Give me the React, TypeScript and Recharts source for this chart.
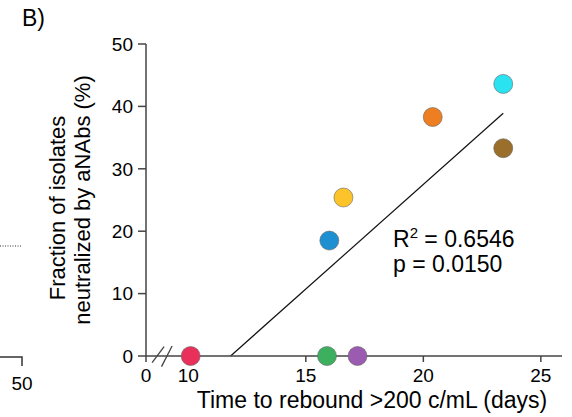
import React from 'react';
import {
  ScatterChart,
  Scatter,
  XAxis,
  YAxis,
  ReferenceLine,
  Cell,
} from 'recharts';

// rebound time (days) vs fraction of isolates neutralized (%)
const days = [10.1, 15.9, 17.2, 16.0, 16.6, 20.4, 23.4, 23.4];
const fractions = [0, 0, 0, 18.5, 25.4, 38.3, 43.6, 33.3];
const dotColors = [
  '#E8305A',
  '#3DB060',
  '#9B5BB0',
  '#1E90D2',
  '#FCC42A',
  '#EE7E22',
  '#2BE2F0',
  '#9A6F2B',
];

// linear fit endpoints
const fitDays = [11.8, 23.4];
const fitValues = [0, 38.9];

const xTicks = [8.2, 10, 15, 20, 25];
const yTicks = [0, 10, 20, 30, 40, 50];

const data = days.map((d, i) => ({ day: d, frac: fractions[i] }));

const axisColor = '#444';
const font = '"Liberation Sans", Arial, sans-serif';

const Dot = (props: any) => {
  const { cx, cy, fill } = props;
  return <circle cx={cx} cy={cy} r={9.5} fill={fill} stroke="#666" strokeWidth={0.6} />;
};

export default function App() {
  return (
    <div
      style={{
        position: 'absolute',
        left: 0,
        top: 0,
        width: 572,
        height: 417,
        background: '#fff',
        fontFamily: font,
      }}
    >
      {/* bits of the neighbouring panel */}
      <svg
        width={572}
        height={417}
        style={{ position: 'absolute', left: 0, top: 0 }}
      >
        <text x={22} y={26} fontSize={23} fill="#000" fontFamily={font}>
          B)
        </text>
        <line x1={0} y1={246} x2={22} y2={246} stroke="#333" strokeDasharray="1 1.5" />
        <polyline points="0,357 22,357 22,366" fill="none" stroke="#333" strokeWidth={1.5} />
        <text x={22} y={390} fontSize={19} textAnchor="middle" fill="#000" fontFamily={font}>
          50
        </text>
      </svg>
      <div style={{ position: 'absolute', left: 0, top: 0 }}>
        <ScatterChart
          width={572}
          height={417}
          margin={{ top: 44, right: 10, bottom: 0, left: 0 }}
        >
          <XAxis
            type="number"
            dataKey="day"
            domain={[8.2, 25.9]}
            ticks={xTicks}
            tickFormatter={(v: number) => (v === 8.2 ? '0' : String(v))}
            height={61}
            stroke={axisColor}
            strokeWidth={1.5}
            tickSize={6}
            tickMargin={7}
            tick={{ fill: '#000', fontSize: 19 }}
            allowDataOverflow
          />
          <YAxis
            type="number"
            dataKey="frac"
            domain={[0, 50]}
            ticks={yTicks}
            width={146}
            stroke={axisColor}
            strokeWidth={1.5}
            tickSize={8}
            tickMargin={5}
            tick={{ fill: '#000', fontSize: 19 }}
          />
          {/* axis break */}
          <ReferenceLine
            segment={[
              { x: 8.46, y: -1.07 },
              { x: 8.97, y: 1.5 },
            ]}
            stroke={axisColor}
            strokeWidth={1.3}
            ifOverflow="visible"
          />
          <ReferenceLine
            segment={[
              { x: 8.86, y: -1.7 },
              { x: 9.31, y: 1.6 },
            ]}
            stroke={axisColor}
            strokeWidth={1.3}
            ifOverflow="visible"
          />
          <ReferenceLine
            segment={[
              { x: fitDays[0], y: fitValues[0] },
              { x: fitDays[1], y: fitValues[1] },
            ]}
            stroke="#111"
            strokeWidth={1.2}
            ifOverflow="visible"
          />
          <Scatter data={data} shape={<Dot />} isAnimationActive={false}>
            {data.map((_, i) => (
              <Cell key={`dot-${i}`} fill={dotColors[i]} />
            ))}
          </Scatter>
          <text x={393} y={247} fontSize={23} fill="#000" fontFamily={font}>
            R
            <tspan fontSize={15} dy={-9}>
              2
            </tspan>
            <tspan dy={9}> = 0.6546</tspan>
          </text>
          <text x={393} y={272} fontSize={23} fill="#000" fontFamily={font}>
            p = 0.0150
          </text>
          <text
            transform="translate(65, 208) rotate(-90)"
            textAnchor="middle"
            fontSize={22}
            fill="#000"
            fontFamily={font}
          >
            Fraction of isolates
          </text>
          <text
            transform="translate(90, 200) rotate(-90)"
            textAnchor="middle"
            fontSize={22}
            fill="#000"
            fontFamily={font}
          >
            neutralized by aNAbs (%)
          </text>
          <text
            x={372}
            y={408}
            textAnchor="middle"
            fontSize={23}
            fill="#000"
            fontFamily={font}
          >
            Time to rebound &gt;200 c/mL (days)
          </text>
        </ScatterChart>
      </div>
    </div>
  );
}
